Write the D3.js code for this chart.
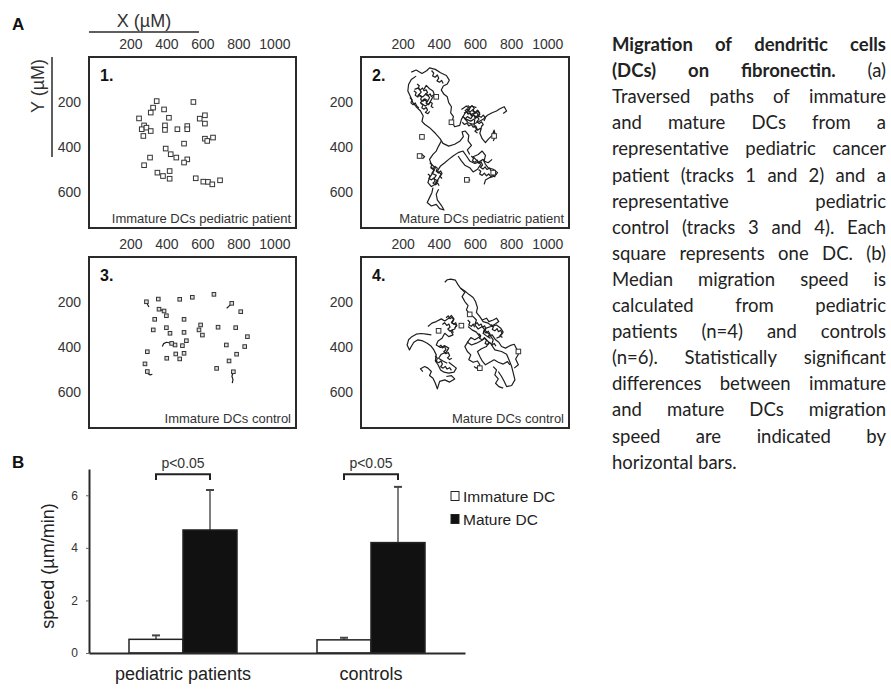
<!DOCTYPE html>
<html>
<head>
<meta charset="utf-8">
<script src="https://cdn.jsdelivr.net/npm/d3@7"></script>
<style>
  body { margin: 0; background: #fff; }
  svg { display: block; }
</style>
</head>
<body>
<svg id="fig" width="891" height="689"></svg>
<script>
// ---- panel A data (positions in µM) ----
const xTicks = [200, 400, 600, 800, 1000];
const yTicks = [200, 400, 600];
const panelNames = ["1.", "2.", "3.", "4."];
const panelCaptions = ["Immature DCs pediatric patient", "Mature DCs pediatric patient",
                       "Immature DCs control", "Mature DCs control"];

// track 1: immature DCs, patient
const cells1 = [[346,196],[326,225],[313,247],[387,233],[414,270],[248,273],[276,304],[263,321],
  [289,314],[313,329],[272,351],[392,304],[392,324],[461,321],[516,307],[516,321],[550,200],
  [585,274],[614,259],[614,296],[614,363],[627,373],[659,358],[498,385],[396,407],[424,432],
  [455,447],[516,455],[498,469],[309,447],[276,481],[350,514],[381,529],[418,507],[418,541],
  [563,539],[605,554],[631,555],[655,566],[698,548]];
const trails1 = [[[289,314],[300,322],[313,329]], [[263,321],[270,312],[276,304]]];

// track 3: immature DCs, control
const cells3 = [[289,199],[355,187],[474,188],[544,179],[664,166],[359,232],[387,240],[400,261],
  [335,277],[498,277],[327,324],[400,314],[420,339],[498,335],[590,302],[581,324],[600,347],
  [687,312],[785,314],[850,354],[763,206],[813,243],[733,391],[835,398],[790,432],[748,462],
  [679,495],[772,510],[511,372],[489,394],[448,391],[429,384],[402,450],[452,431],[474,453],
  [498,428],[294,421],[281,475],[294,509]];
const trails3 = [[[289,199],[296,212],[303,222]], [[763,206],[748,218],[735,228]],
  [[772,510],[764,530],[770,545],[766,561]], [[377,398],[385,385],[400,379],[415,381],[429,384]],
  [[294,509],[300,520],[310,524],[322,521]], [[359,232],[372,236],[387,240]]];

// track 2: mature DCs, patient
const tracks2 = [
  [[248,67],[275,58],[307,73],[333,61],[349,48],[381,55],[410,70],[442,82],[458,103],[447,120],[425,129],[414,147],[429,166],[447,177],[455,203],[470,221],[466,248],[481,265],[473,289],[488,310],[516,304],[525,277],[544,251],[566,233],[581,218],[608,225]],
  [[275,85],[248,100],[233,122],[229,151],[244,177],[257,203],[275,221],[299,240],[314,262],[307,286],[322,299],[349,314],[381,339],[407,363],[423,384],[455,396],[488,388],[518,373],[536,354],[529,333],[547,329],[566,348],[562,373],[581,393],[558,413],[571,433]],
  [[266,144],[288,137],[303,156],[285,171],[312,177],[331,162],[349,181],[336,200],[318,188],[299,203],[325,218],[349,206],[362,185],[377,171],[368,151],[349,141],[331,126],[318,144]],
  [[525,233],[553,218],[571,230],[558,248],[581,255],[608,245],[621,262],[599,274],[577,285],[553,277],[534,265],[562,292],[590,299],[618,289],[645,277],[669,259],[695,248],[719,240],[738,230],[762,221],[775,240],[756,251]],
  [[599,277],[595,307],[614,325],[636,314],[627,339],[640,363],[658,381],[673,366],[695,348],[706,325],[714,351],[701,373]],
  [[414,373],[399,396],[386,418],[368,433],[349,455],[359,477],[381,492],[368,514],[349,536],[340,558],[359,576],[381,566],[396,544],[414,521],[392,507],[410,484],[433,470],[455,455],[479,440],[507,425],[534,418],[553,440],[571,462],[599,473],[621,467],[645,455],[658,477],[673,492],[701,499],[725,514],[710,529],[682,536],[658,547],[651,566]],
  [[368,581],[362,603],[349,625],[336,647],[359,662],[386,655],[405,674],[429,680],[414,659],[392,635],[386,610],[399,588]],
  [[507,440],[525,462],[544,481],[571,492],[590,511],[614,499],[632,477],[608,458],[590,443],[618,433],[640,418],[658,437],[651,462],[673,470],[695,455]],
  [[303,351],[314,357],[307,366]],
  [[294,440],[307,433],[322,443],[310,452]],
  [[544,544],[558,538],[571,547],[555,555]],
  [[544,240],[558,230],[571,245],[590,233],[599,251],[618,240],[627,255],[608,265],[590,259],[577,274],[558,265],[544,277]],
  [[355,492],[373,502],[362,517],[386,526],[373,541],[396,551],[381,561]],
  [[262,150],[275,158],[270,170],[284,178],[292,168],[305,175],[300,190],[314,196],[322,186],[336,192],[330,205],[344,212],[352,200],[364,206],[358,220],[370,226]],
  [[280,120],[292,128],[286,140],[298,146],[310,138],[318,150],[330,146],[338,158],[326,166],[340,172],[352,164],[360,176],[372,168],[380,182]],
  [[300,205],[312,214],[306,226],[318,232],[330,224],[338,236],[326,246],[340,252],[350,242]],
  [[540,250],[552,242],[562,254],[574,248],[580,262],[594,256],[600,270],[612,264],[622,276],[610,288],[624,296],[636,288],[646,300],[634,310]],
  [[560,215],[572,224],[584,216],[596,228],[588,240],[602,246],[614,236],[626,248],[620,262],[634,268],[646,258],[658,270],[650,284]],
  [[530,290],[542,300],[556,294],[566,306],[580,300],[590,312],[604,306],[612,320],[600,330],[614,338]],
  [[350,470],[362,478],[356,490],[370,496],[380,486],[392,494],[386,508],[398,516],[410,506],[418,518],[406,530],[418,540]],
  [[340,520],[352,528],[346,540],[360,546],[372,538],[380,552],[368,560],[382,568],[394,560],[402,572]],
  [[580,440],[592,450],[586,462],[600,468],[612,458],[620,472],[634,466],[642,480],[630,490],[644,498],[656,488],[666,500],[680,494],[690,506]],
  [[620,500],[632,508],[626,520],[640,526],[652,516],[664,528],[676,520],[688,532],[700,524],[712,534]],
  [[360,60],[372,72],[366,84],[380,90],[392,80],[400,94],[390,106],[404,112],[416,104],[424,118]],
  [[240,180],[252,190],[246,204],[258,212],[270,204],[278,218],[290,226]]
];
const cells2 = [[307,355],[294,440],[470,290],[701,514],[706,351],[555,546],[386,177]];

// track 4: mature DCs, control
const tracks4 = [
  [[433,112],[447,101],[466,98],[492,103],[507,124],[521,139],[544,157],[529,176],[544,198],[562,216],[553,235],[571,254],[590,265],[608,280],[599,302],[618,320],[640,309],[658,328],[682,346],[701,368],[692,391],[710,413],[747,420],[775,432],[788,457],[803,487],[812,516],[821,546],[803,571],[775,576],[762,553],[747,531],[729,509]],
  [[521,139],[544,151],[566,166],[590,180],[603,198],[614,225],[608,246],[627,265],[645,287],[673,294],[695,309],[719,302],[743,317],[756,334],[738,354],[719,361]],
  [[340,309],[362,294],[386,287],[414,275],[433,284],[455,272],[470,260],[484,275],[473,294],[497,302],[488,320],[466,328],[479,346],[455,354],[433,339],[418,361],[396,373],[386,391],[410,402],[433,394],[455,405],[442,423],[414,432],[399,450],[423,462],[447,472]],
  [[359,346],[331,343],[303,340],[275,343],[251,354],[233,368],[225,391],[238,413],[248,398],[262,379],[285,368],[312,373],[336,383],[355,394],[373,413],[386,435],[381,462],[396,479],[410,502],[429,512],[455,516],[484,512],[497,494],[473,479],[455,468]],
  [[312,509],[299,497],[322,487],[340,494],[359,509],[349,527],[368,539],[381,561],[392,586],[405,553],[433,546],[460,556],[488,542],[470,527],[442,531]],
  [[562,309],[584,324],[608,334],[627,354],[599,368],[577,358],[558,379],[581,391],[608,383],[632,373],[655,361],[677,379],[664,398],[636,408],[614,420],[627,442],[640,462],[658,479],[682,468],[706,457],[729,468],[756,476],[780,465],[793,479]],
  [[640,280],[664,272],[677,287],[701,280],[719,272],[732,287],[710,299],[688,309],[658,317],[645,339],[669,354],[695,346],[714,368],[732,379],[747,398],[769,405],[793,394],[817,388],[830,408],[840,432],[825,453],[840,479],[817,494]],
  [[562,376],[544,398],[558,420],[577,435],[566,457],[590,468],[614,462],[627,479],[608,494],[595,487]],
  [[701,487],[719,502],[710,524],[729,542],[714,561],[732,576],[756,583]],
  [[440,270],[452,262],[462,274],[474,268],[482,280],[470,290],[482,298],[494,292],[500,306],[488,314]],
  [[420,300],[432,292],[444,304],[456,298],[462,312],[450,320],[462,330],[474,324],[480,338]],
  [[400,400],[412,392],[420,404],[432,398],[440,412],[428,420],[440,430],[452,424],[460,438],[448,448],[460,456],[472,450]],
  [[380,440],[392,450],[386,464],[400,470],[412,462],[420,476],[410,488],[424,494],[436,486],[446,498],[460,492],[470,504]],
  [[600,300],[612,292],[622,304],[634,298],[642,312],[654,306],[660,320],[648,330],[662,338],[674,330],[684,344],[672,354],[686,362]],
  [[620,340],[632,350],[626,362],[640,368],[652,358],[664,370],[656,384],[670,390],[682,380],[694,392],[706,384],[716,396]],
  [[690,300],[702,310],[696,322],[710,328],[722,318],[730,332],[742,326],[750,340],[738,350],[752,358]],
  [[560,280],[572,290],[566,302],[580,308],[590,298],[598,312]]
];
const cells4 = [[525,305],[399,328],[840,420],[627,494],[571,255]];

// ---- panel B data ----
const groups = ["pediatric patients", "controls"];
const series = ["Immature DC", "Mature DC"];
const immatureSpeed = [0.52, 0.50];
const matureSpeed = [4.68, 4.20];
const immatureErr = [0.15, 0.08];
const matureErr = [1.52, 2.12];
const speedTicks = [0, 2, 4, 6];
const pLabels = ["p<0.05", "p<0.05"];

// ---- caption ----
const captionLines = [
  "Migration of dendritic cells",
  "(DCs) on fibronectin. (a)",
  "Traversed paths of immature",
  "and mature DCs from a",
  "representative pediatric cancer",
  "patient (tracks 1 and 2) and a",
  "representative pediatric",
  "control (tracks 3 and 4). Each",
  "square represents one DC. (b)",
  "Median migration speed is",
  "calculated from pediatric",
  "patients (n=4) and controls",
  "(n=6). Statistically significant",
  "differences between immature",
  "and mature DCs migration",
  "speed are indicated by",
  "horizontal bars."
];
const captionBold = [4, 3, 0, 0, 0, 0, 0, 0, 0, 0, 0, 0, 0, 0, 0, 0, 0];

const ink = "#2a2a2a";
const font = "'Liberation Sans', Arial, sans-serif";
const svg = d3.select("#fig");

// ================= panel A =================
const panels = [
  {x: 89,  y: 57,  w: 207, h: 171},
  {x: 361, y: 57,  w: 208, h: 171},
  {x: 89,  y: 257, w: 207, h: 171},
  {x: 361, y: 257, w: 208, h: 171}
];
const panelCells = [cells1, cells2, cells3, cells4];
const panelTracks = [trails1, tracks2, trails3, tracks4];

panels.forEach((p, i) => {
  const sx = d3.scaleLinear().domain([-30, 1120]).range([p.x, p.x + p.w]);
  const sy = d3.scaleLinear().domain([0, 760]).range([p.y, p.y + p.h]);
  const g = svg.append("g").attr("class", "panel" + (i + 1));

  g.append("g")
      .attr("transform", `translate(0,${p.y})`)
      .call(d3.axisTop(sx).tickValues(xTicks).tickFormat(d3.format("d")).tickSize(0).tickPadding(8))
      .call(a => a.select(".domain").remove())
      .call(a => a.selectAll("text").attr("font-size", 14).attr("font-family", font).attr("fill", "#333"));

  g.append("g")
      .attr("transform", `translate(${p.x},0)`)
      .call(d3.axisLeft(sy).tickValues(yTicks).tickFormat(d3.format("d")).tickSize(0).tickPadding(8))
      .call(a => a.select(".domain").remove())
      .call(a => a.selectAll("text").attr("font-size", 14).attr("font-family", font).attr("fill", "#333"));

  const line = d3.line().x(d => sx(d[0])).y(d => sy(d[1]));
  g.append("g")
    .selectAll("path")
    .data(panelTracks[i])
    .join("path")
      .attr("d", line)
      .attr("fill", "none")
      .attr("stroke", "#1e1e1e")
      .attr("stroke-width", 1.2)
      .attr("stroke-linejoin", "round");

  const sq = (i === 2) ? 3.6 : 4.6;
  g.append("g")
    .selectAll("rect")
    .data(panelCells[i])
    .join("rect")
      .attr("x", d => sx(d[0]) - sq / 2)
      .attr("y", d => sy(d[1]) - sq / 2)
      .attr("width", sq)
      .attr("height", sq)
      .attr("fill", i === 2 ? "#ddd" : "#fff")
      .attr("stroke", "#333")
      .attr("stroke-width", 1);

  g.append("rect")
      .attr("x", p.x).attr("y", p.y)
      .attr("width", p.w).attr("height", p.h)
      .attr("fill", "none")
      .attr("stroke", ink)
      .attr("stroke-width", 2);

  g.append("text")
      .attr("x", p.x + 11).attr("y", p.y + 24)
      .attr("font-family", font).attr("font-weight", "bold")
      .attr("font-size", 16).attr("fill", "#111")
      .text(panelNames[i]);

  g.append("text")
      .attr("x", p.x + p.w - 5).attr("y", p.y + p.h - 5)
      .attr("text-anchor", "end")
      .attr("font-family", font).attr("font-size", 13).attr("fill", "#333")
      .text(panelCaptions[i]);
});

// axis titles of panel A
svg.append("text").attr("x", 144).attr("y", 27)
    .attr("text-anchor", "middle").attr("font-family", font)
    .attr("font-size", 18).attr("fill", "#333").text("X (µM)");
svg.append("line").attr("x1", 89).attr("x2", 199).attr("y1", 32).attr("y2", 32)
    .attr("stroke", ink).attr("stroke-width", 1.5);
svg.append("text").attr("transform", "translate(44,86) rotate(-90)")
    .attr("text-anchor", "middle").attr("font-family", font)
    .attr("font-size", 18).attr("fill", "#333").text("Y (µM)");
svg.append("line").attr("x1", 52).attr("x2", 52).attr("y1", 57).attr("y2", 157)
    .attr("stroke", ink).attr("stroke-width", 1.5);

svg.append("text").attr("x", 12).attr("y", 30)
    .attr("font-family", font).attr("font-weight", "bold")
    .attr("font-size", 17).attr("fill", "#111").text("A");
svg.append("text").attr("x", 12).attr("y", 468)
    .attr("font-family", font).attr("font-weight", "bold")
    .attr("font-size", 17).attr("fill", "#111").text("B");

// ================= panel B =================
const bx0 = d3.scaleBand().domain(groups).range([89, 465]).padding(0);
const bx1 = d3.scaleBand().domain(series).range([-54, 54]);
const by = d3.scaleLinear().domain([0, 7]).range([653, 469]);

const bars = svg.append("g").attr("class", "bars");
groups.forEach((grp, i) => {
  const c = bx0(grp) + bx0.bandwidth() / 2;
  const vals = [immatureSpeed[i], matureSpeed[i]];
  const errs = [immatureErr[i], matureErr[i]];
  series.forEach((s, j) => {
    const x = c + bx1(s);
    const mid = x + bx1.bandwidth() / 2;
    // error bar (upper only)
    bars.append("line")
        .attr("x1", mid).attr("x2", mid)
        .attr("y1", by(vals[j])).attr("y2", by(vals[j] + errs[j]))
        .attr("stroke", "#555").attr("stroke-width", 1.5);
    bars.append("line")
        .attr("x1", mid - 4).attr("x2", mid + 4)
        .attr("y1", by(vals[j] + errs[j])).attr("y2", by(vals[j] + errs[j]))
        .attr("stroke", "#444").attr("stroke-width", 2);
    bars.append("rect")
        .attr("x", x).attr("y", by(vals[j]))
        .attr("width", bx1.bandwidth())
        .attr("height", by(0) - by(vals[j]))
        .attr("fill", j === 0 ? "#fff" : "#111")
        .attr("stroke", "#222").attr("stroke-width", 1.5);
  });
  // significance bracket
  const xa = c + bx1(series[0]) + bx1.bandwidth() / 2;
  const xb = c + bx1(series[1]) + bx1.bandwidth() / 2;
  bars.append("path")
      .attr("d", `M${xa},${by(6.58)}V${by(6.8)}H${xb}V${by(6.58)}`)
      .attr("fill", "none").attr("stroke", "#222").attr("stroke-width", 2);
  bars.append("text")
      .attr("x", c).attr("y", by(7.04))
      .attr("text-anchor", "middle").attr("font-family", font)
      .attr("font-size", 14).attr("fill", "#333")
      .text(pLabels[i]);
});

svg.append("g")
    .attr("transform", "translate(89,0)")
    .call(d3.axisLeft(by).tickValues(speedTicks).tickFormat(d3.format("d")).tickSize(3).tickSizeOuter(0).tickPadding(8))
    .call(a => a.select(".domain").attr("stroke", ink).attr("stroke-width", 2))
    .call(a => a.selectAll(".tick line").attr("stroke", "#666"))
    .call(a => a.selectAll("text").attr("font-size", 12).attr("font-family", font).attr("fill", "#333"));

svg.append("g")
    .attr("transform", "translate(0,653)")
    .call(d3.axisBottom(bx0).tickSize(0).tickSizeOuter(0).tickPadding(14))
    .call(a => a.select(".domain").attr("stroke", ink).attr("stroke-width", 2))
    .call(a => a.selectAll("text").attr("font-size", 18).attr("font-family", font).attr("fill", "#222"));

svg.append("text")
    .attr("transform", "translate(54,566) rotate(-90)")
    .attr("text-anchor", "middle").attr("font-family", font)
    .attr("font-size", 18).attr("fill", "#222")
    .text("speed (µm/min)");

// legend
const leg = svg.append("g");
series.forEach((s, j) => {
  const y = 496 + j * 23;
  leg.append("rect")
      .attr("x", 451).attr("y", y - 4.5).attr("width", 8).attr("height", 9)
      .attr("fill", j === 0 ? "#fff" : "#111")
      .attr("stroke", "#222").attr("stroke-width", 1);
  leg.append("text")
      .attr("x", 463).attr("y", y + 5.5)
      .attr("font-family", font).attr("font-size", 15.5).attr("fill", "#222")
      .text(s);
});

// ================= caption (justified) =================
const capX0 = 612, capX1 = 886;
const cap = svg.append("g").attr("font-family", "Lato, 'Open Sans', sans-serif")
    .attr("font-size", 18.5).attr("fill", "#222");
captionLines.forEach((ln, i) => {
  const words = ln.split(" ");
  const y = 51 + i * 26.1;
  const nodes = words.map((w, k) => cap.append("text")
      .attr("y", y)
      .attr("font-weight", k < captionBold[i] ? "bold" : "normal")
      .text(w));
  const widths = nodes.map(n => n.node().getComputedTextLength());
  const total = d3.sum(widths);
  const last = i === captionLines.length - 1;
  let gap = words.length > 1 ? (capX1 - capX0 - total) / (words.length - 1) : 0;
  if (last) gap = 5;
  let x = capX0;
  nodes.forEach((n, k) => {
    n.attr("x", x);
    x += widths[k] + gap;
  });
});
</script>
</body>
</html>
